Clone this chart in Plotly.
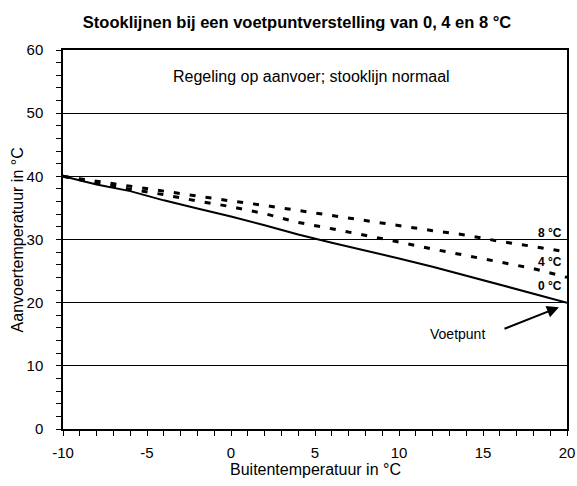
import plotly.graph_objects as go

# Outside temperature (°C)
buiten = [-10, -8, -6, -4, -2, 0, 2, 4, 6, 8, 10, 12, 14, 16, 18, 20]
# Supply temperature for foot point shift 0, 4 and 8 °C
aanvoer_0 = [40.0, 38.7, 37.66, 36.2, 34.9, 33.65, 32.25, 30.8, 29.5, 28.3, 27.0, 25.7, 24.3, 22.9, 21.5, 20.0]
aanvoer_4 = [40.0, 38.9, 37.97, 37.1, 36.1, 35.2, 34.1, 32.7, 31.7, 30.7, 29.6, 28.5, 27.45, 26.45, 25.4, 24.0]
aanvoer_8 = [40.0, 39.2, 38.4, 37.7, 36.9, 36.1, 35.4, 34.6, 33.75, 32.95, 32.2, 31.4, 30.7, 29.7, 28.9, 28.0]

x_tickvals = [-10, -5, 0, 5, 10, 15, 20]
x_ticktext = ["-10", "-5", "0", "5", "10", "15", "20"]
y_tickvals = [0, 10, 20, 30, 40, 50, 60]
y_ticktext = ["0", "10", "20", "30", "40", "50", "60"]

line_labels = ["8 °C", "4 °C", "0 °C"]
label_y = [31.1, 26.5, 22.6]

title_text = "Stooklijnen bij een voetpuntverstelling van 0, 4 en 8 °C"
subtitle_text = "Regeling op aanvoer; stooklijn normaal"
x_title = "Buitentemperatuur in °C"
y_title = "Aanvoertemperatuur in °C"

FONT = "Liberation Sans, Arial, sans-serif"

fig = go.Figure()
fig.add_trace(go.Scatter(x=buiten, y=aanvoer_0, mode="lines",
                         line=dict(color="black", width=2), showlegend=False))
fig.add_trace(go.Scatter(x=buiten, y=aanvoer_4, mode="lines",
                         line=dict(color="black", width=3, dash="6px,10px"), showlegend=False))
fig.add_trace(go.Scatter(x=buiten, y=aanvoer_8, mode="lines",
                         line=dict(color="black", width=3, dash="6px,10px"), showlegend=False))

annotations = []
for txt, yy in zip(line_labels, label_y):
    annotations.append(dict(x=19.8, y=yy, xref="x", yref="y", text="<b>" + txt + "</b>",
                            showarrow=False, xanchor="right", yanchor="middle",
                            font=dict(family=FONT, size=12, color="black")))
annotations.append(dict(x=4.79, y=55.8, xref="x", yref="y", text=subtitle_text,
                        showarrow=False, xanchor="center", yanchor="middle",
                        font=dict(family=FONT, size=16, color="black")))
annotations.append(dict(x=13.5, y=15.0, xref="x", yref="y", text="Voetpunt",
                        showarrow=False, xanchor="center", yanchor="middle",
                        font=dict(family=FONT, size=14, color="black")))
annotations.append(dict(x=19.52, y=19.27, ax=16.19, ay=15.78, xref="x", yref="y",
                        axref="x", ayref="y", text="", showarrow=True,
                        arrowhead=2, arrowsize=1.2, arrowwidth=2, arrowcolor="black"))
annotations.append(dict(x=0.5, y=-0.108, xref="paper", yref="paper", text=x_title,
                        showarrow=False, xanchor="center", yanchor="middle",
                        font=dict(family=FONT, size=16, color="black")))
annotations.append(dict(x=-0.0894, y=0.5, xref="paper", yref="paper", text=y_title,
                        showarrow=False, xanchor="center", yanchor="middle", textangle=-90,
                        font=dict(family=FONT, size=16, color="black")))

fig.update_layout(
    width=577, height=486, autosize=False,
    margin=dict(l=63, r=10, t=50, b=57, autoexpand=False),
    paper_bgcolor="white", plot_bgcolor="white",
    font=dict(family=FONT, size=15, color="black"),
    title=dict(text="<b>" + title_text + "</b>", x=297 / 577, xref="container", xanchor="center",
               y=1 - 22 / 486, yref="container", yanchor="middle",
               font=dict(family=FONT, size=16.5, color="black")),
    annotations=annotations,
    showlegend=False,
)
fig.update_xaxes(range=[-10, 20], tickmode="array", tickvals=x_tickvals, ticktext=x_ticktext,
                 ticks="outside", ticklen=5, tickwidth=1, tickcolor="black",
                 minor=dict(dtick=1, tick0=-10, ticks="outside", ticklen=5, tickcolor="black", showgrid=False),
                 showgrid=False, zeroline=False, automargin=False,
                 showline=True, linecolor="black", linewidth=1.5, mirror=True,
                 ticklabelstandoff=4,
                 tickfont=dict(family=FONT, size=15, color="black"))
fig.update_yaxes(range=[0, 60], tickmode="array", tickvals=y_tickvals, ticktext=y_ticktext,
                 ticks="outside", ticklen=5, tickwidth=1, tickcolor="black",
                 minor=dict(dtick=2, tick0=0, ticks="outside", ticklen=5, tickcolor="black", showgrid=False),
                 showgrid=True, gridcolor="black", gridwidth=1, zeroline=False, automargin=False,
                 showline=True, linecolor="black", linewidth=1.5, mirror=True,
                 ticklabelstandoff=10,
                 tickfont=dict(family=FONT, size=15, color="black"))

fig.write_html("out.html", config={"displayModeBar": False, "responsive": False},
               post_script="document.body.style.margin='0';")
